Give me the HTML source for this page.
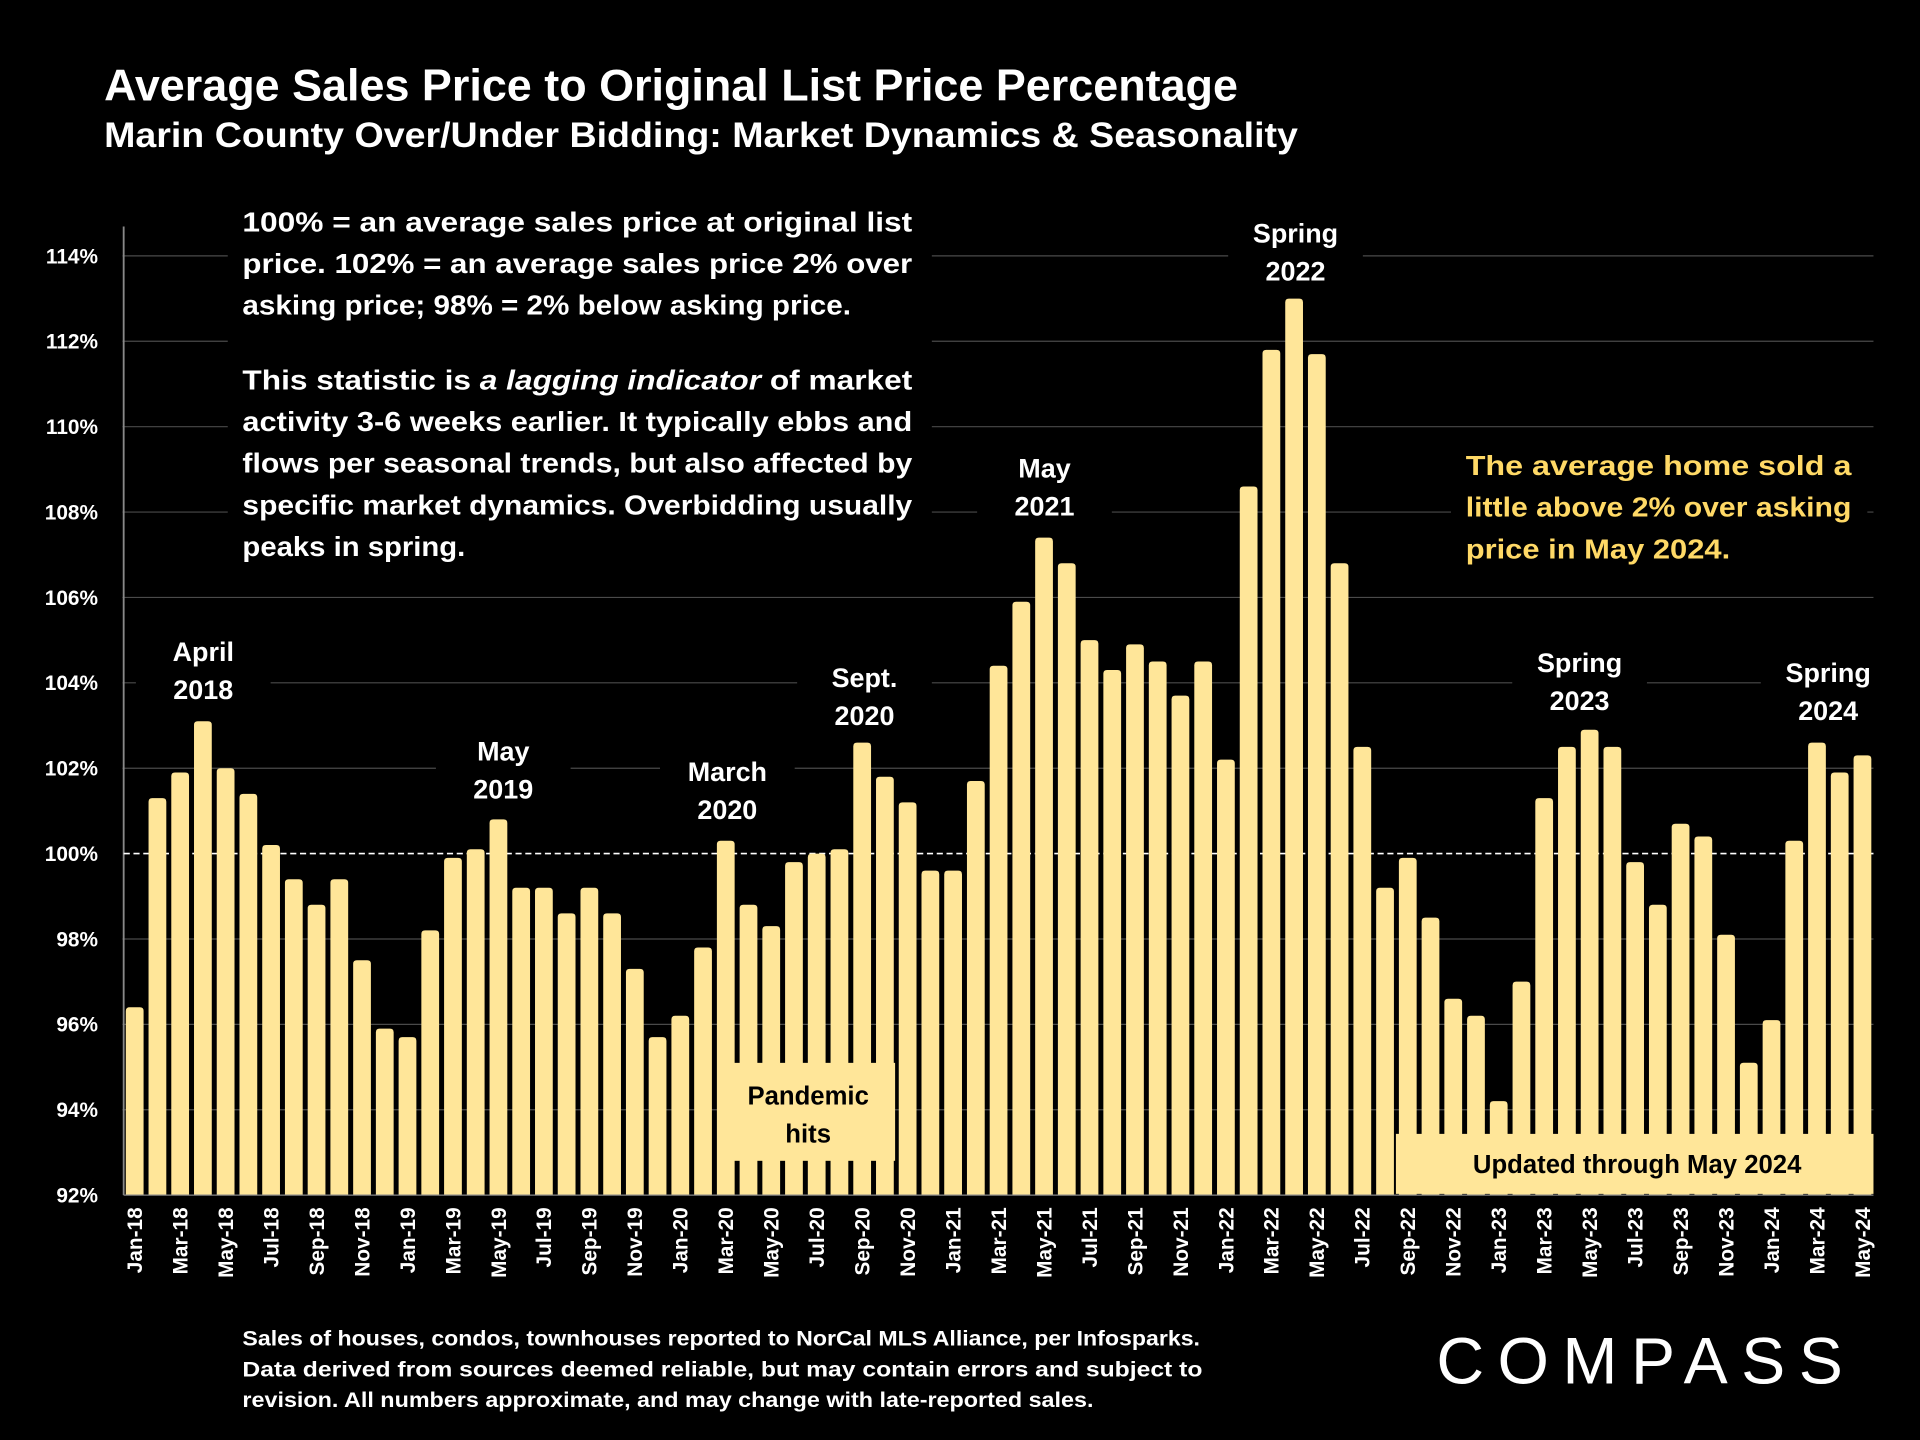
<!DOCTYPE html>
<html><head><meta charset="utf-8"><style>
html,body{margin:0;padding:0;background:#000;width:1920px;height:1440px;overflow:hidden}
#root{width:1568px;height:1176px;transform:scale(1.2244898);transform-origin:0 0}
svg text{font-family:"Liberation Sans",sans-serif;font-weight:bold}
</style></head><body>
<div id="root">
<svg id="chart" width="1568" height="1176" viewBox="0 0 1568 1176">
<rect width="1568" height="1176" fill="#000"/>
<g id="grid"></g>
<g id="bars"></g>
<g id="xlabels"></g>
<g id="ylabels"></g>
</svg>
</div>
<script>
const months=["Jan","Feb","Mar","Apr","May","Jun","Jul","Aug","Sep","Oct","Nov","Dec"];
const categories=[];
for(let y=18;y<=24;y++){for(let m=0;m<12;m++){if(y===24&&m>4)break;categories.push(months[m]+"-"+y);}}
const values=[96.4,101.3,101.9,103.1,102.0,101.4,100.2,99.4,98.8,99.4,97.5,95.9,
95.7,98.2,99.9,100.1,100.8,99.2,99.2,98.6,99.2,98.6,97.3,95.7,
96.2,97.8,100.3,98.8,98.3,99.8,100.0,100.1,102.6,101.8,101.2,99.6,
99.6,101.7,104.4,105.9,107.4,106.8,105.0,104.3,104.9,104.5,103.7,104.5,
102.2,108.6,111.8,113.0,111.7,106.8,102.5,99.2,99.9,98.5,96.6,96.2,
94.2,97.0,101.3,102.5,102.9,102.5,99.8,98.8,100.7,100.4,98.1,95.1,
96.1,100.3,102.6,101.9,102.3];
const yTicks=[92,94,96,98,100,102,104,106,108,110,112,114];
const NS="http://www.w3.org/2000/svg";
const svg=document.getElementById('chart');
function yScale(v){return 976-(v-92)*(976-209)/22;}
function xScale(i){return 110+i*(1411/(categories.length-1));}
function mk(tag,attrs,parent,txt){const e=document.createElementNS(NS,tag);for(const k in attrs)e.setAttribute(k,attrs[k]);if(txt!==undefined)e.textContent=txt;parent.appendChild(e);return e;}
const grid=document.getElementById('grid'),bars=document.getElementById('bars'),xl=document.getElementById('xlabels'),yl=document.getElementById('ylabels');
yTicks.forEach(t=>{
  const y=yScale(t);
  if(t!==92&&t!==100){const g=mk('line',{x1:100,x2:1530,y1:y,y2:y,stroke:'#4a4a4a','stroke-width':1},grid);
  
  }
  const l=mk('text',{x:80,y:y+6,'text-anchor':'end','font-size':17,fill:'#fff'},yl,t+'%');
  
  
});
const ax=mk('line',{x1:101,x2:101,y1:185,y2:976,stroke:'#888','stroke-width':1.5},grid);


const bw=14.5;
values.forEach((v,i)=>{
  const x=xScale(i),y=yScale(v);
  const b=mk('path',{d:`M${x-bw/2},976 V${y+3} Q${x-bw/2},${y} ${x-bw/2+3},${y} H${x+bw/2-3} Q${x+bw/2},${y} ${x+bw/2},${y+3} V976 Z`,fill:'#ffe699'},bars);
  
  
  if(i%2===0){
    const t=mk('text',{x:0,y:0,transform:`translate(${x+6},986) rotate(-90)`,'text-anchor':'end','font-size':17,fill:'#fff'},xl,categories[i]);
    
    
  }
});
const dl=mk('line',{x1:101,x2:1530,y1:yScale(100),y2:yScale(100),stroke:'#fff','stroke-width':1.3,'stroke-dasharray':'5,3'},grid);


const bl=mk('line',{x1:101,x2:1530,y1:976,y2:976,stroke:'#888','stroke-width':1},svg);


[[186,165,575,300],[1185,360,340,105]].forEach((r,k)=>{
  const e=mk('rect',{x:r[0],y:r[1],width:r[2],height:r[3],fill:'#000'},grid);
  
  
});
function line(txt,x,y,size,fill,len,name,anchor){
  const a={x:x,y:y,'font-size':size,fill:fill};
  if(len){a.textLength=len;a.lengthAdjust='spacingAndGlyphs';}
  if(anchor)a['text-anchor']=anchor;
  const t=mk('text',a,svg,txt);
  
  
  return t;
}
line('Average Sales Price to Original List Price Percentage',85,82,36,'#fff',926,'chart-title');
line('Marin County Over/Under Bidding: Market Dynamics & Seasonality',85,120,29,'#fff',975,'chart-subtitle');
const ann=[['April','2018',166,540],['May','2019',411,621],['March','2020',594,638],['Sept.','2020',706,561],['May','2021',853,390],['Spring','2022',1058,198],['Spring','2023',1290,549],['Spring','2024',1493,557]];
ann.forEach((a,k)=>{
  const r=mk('rect',{x:a[2]-55,y:a[3]-26,width:110,height:68,fill:'#000'},svg);
  
  
  line(a[0],a[2],a[3],22,'#fff',null,'annotation-'+a[0].toLowerCase().replace('.','')+'-'+a[1],'middle');
  line(a[1],a[2],a[3]+31,22,'#fff',null,'annotation-year-'+a[1],'middle');
});
const pb=mk('rect',{x:588,y:868,width:143,height:80,fill:'#ffe699'},svg);


line('Pandemic',660,902,21,'#000',null,'pandemic-label','middle');
line('hits',660,933,21,'#000',null,'pandemic-label-2','middle');
const ub=mk('rect',{x:1140,y:926,width:390,height:49,fill:'#ffe699'},svg);


line('Updated through May 2024',1337,958,21,'#000',null,'updated-label','middle');
const W=547;
line('100% = an average sales price at original list',198,189,23,'#fff',W,'note-line-1');
line('price. 102% = an average sales price 2% over',198,223,23,'#fff',W,'note-line-2');
line('asking price; 98% = 2% below asking price.',198,257,23,'#fff',497,'note-line-3');
const t4=line('',198,318,23,'#fff',W,'note-line-4');
t4.innerHTML='This statistic is <tspan font-style="italic">a lagging indicator</tspan> of market';
line('activity 3-6 weeks earlier. It typically ebbs and',198,352,23,'#fff',W,'note-line-5');
line('flows per seasonal trends, but also affected by',198,386,23,'#fff',W,'note-line-6');
line('specific market dynamics. Overbidding usually',198,420,23,'#fff',W,'note-line-7');
line('peaks in spring.',198,454,23,'#fff',182,'note-line-8');
line('The average home sold a',1197,388,23,'#ffd966',315,'callout-line-1');
line('little above 2% over asking',1197,422,23,'#ffd966',315,'callout-line-2');
line('price in May 2024.',1197,456,23,'#ffd966',216,'callout-line-3');
line('Sales of houses, condos, townhouses reported to NorCal MLS Alliance, per Infosparks.',198,1099,17.5,'#fff',782,'footnote-line-1');
line('Data derived from sources deemed reliable, but may contain errors and subject to',198,1124,17.5,'#fff',784,'footnote-line-2');
line('revision. All numbers approximate, and may change with late-reported sales.',198,1149,17.5,'#fff',695,'footnote-line-3');
const lg=mk('text',{x:1173,y:1130,'font-size':54,fill:'#fff',style:'font-weight:normal',textLength:332,lengthAdjust:'spacing'},svg,'COMPASS');


</script>
</body></html>
